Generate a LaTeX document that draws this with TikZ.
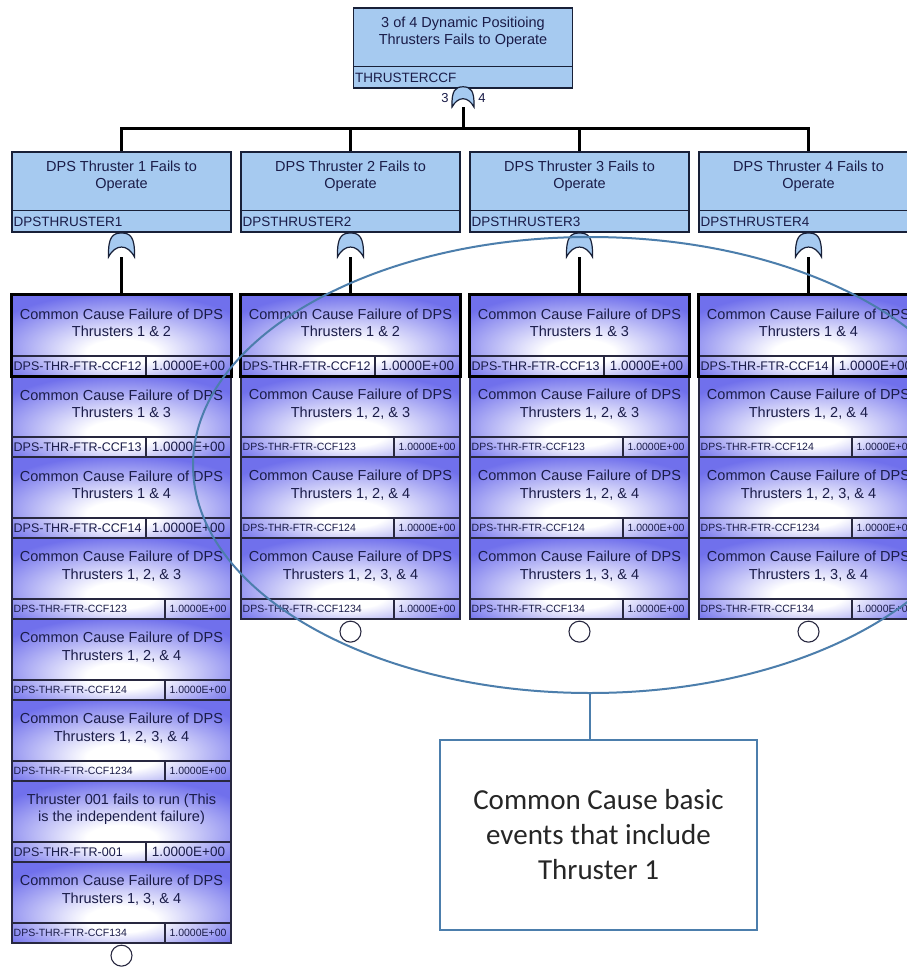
\documentclass[tikz,border=0pt]{standalone}
\usepackage{fontspec}
\setmainfont{Liberation Sans}
\newfontfamily\notefont{Carlito}
\usetikzlibrary{shapes.geometric,calc}

\definecolor{gatefill}{RGB}{166,202,240}
\definecolor{boxline}{RGB}{24,32,56}
\definecolor{evblue}{RGB}{112,112,236}
\definecolor{inktext}{RGB}{26,28,72}
\definecolor{notecol}{RGB}{76,126,172}
\definecolor{bandcol}{RGB}{40,40,64}
\definecolor{notetext}{RGB}{38,38,38}

% basic event fill: white glow near the lower middle, blue towards the edges
\pgfdeclareradialshading{evshade}{\pgfpoint{0bp}{-12bp}}{%
  color(0bp)=(white); color(8bp)=(white); color(32bp)=(evblue); color(60bp)=(evblue)}

\tikzset{
  conn/.style={line width=3pt, line join=miter},
  gatebox/.style={draw=boxline, line width=1.3pt, fill=gatefill,
    minimum width=219pt, minimum height=80pt, inner sep=0pt},
  sepline/.style={draw=boxline, line width=1.3pt},
  titletext/.style={font=\fontsize{14.5}{17.5}\selectfont, text=inktext,
    align=center, inner sep=0pt},
  gateid/.style={font=\fontsize{13.5}{15}\selectfont, text=inktext,
    inner sep=0pt, anchor=west},
  evbox/.style={draw=bandcol, line width=1.2pt, minimum width=219pt,
    minimum height=81pt, inner sep=0pt, shade, shading=evshade},
  firstedge/.style={draw=black, line width=2.6pt},
  bandline/.style={draw=bandcol, line width=1.2pt},
  idbig/.style={font=\fontsize{12.5}{14}\selectfont, text=inktext, inner sep=0pt},
  valbig/.style={font=\fontsize{13.5}{15}\selectfont, text=inktext, inner sep=0pt},
  idsmall/.style={font=\fontsize{10.5}{12}\selectfont, text=inktext, inner sep=0pt},
  valsmall/.style={font=\fontsize{10.5}{12}\selectfont, text=inktext, inner sep=0pt},
  gateslot/.style={inner sep=0pt, minimum width=26pt, minimum height=24pt},
  gateshape/.style={draw=boxline, line width=1.2pt, fill=gatefill},
  votelabel/.style={font=\fontsize{13}{14}\selectfont, text=inktext, inner sep=0pt},
  endcircle/.style={circle, draw=bandcol, fill=white, minimum size=21pt,
    inner sep=0pt, line width=1.1pt},
  group/.style={ellipse, draw=notecol, line width=2pt, minimum width=794pt,
    minimum height=456pt, inner sep=0pt},
  notebox/.style={draw=notecol, line width=2pt, fill=white, minimum width=317pt,
    minimum height=190pt, align=center, inner sep=0pt, text=notetext,
    font=\notefont\fontsize{29}{35}\selectfont},
  noteline/.style={draw=notecol, line width=2.5pt}
}

% gate event box: #1 name, #2 centre x, #3 centre y, #4 title, #5 identifier
\newcommand\gateevent[5]{%
  \node[gatebox] (#1) at (#2,#3) {};
  \draw[sepline] ($(#1.south west)+(0,-22)$) -- ($(#1.south east)+(0,-22)$);
  \node[titletext] (#1-title) at ($(#1.north)+(0,25)$) {#4};
  \node[gateid] (#1-id) at ($(#1.south west)+(2,-11)$) {#5};
}

% OR gate symbol: #1 name, #2 centre x, #3 centre y, #4 scale
\newcommand\orgate[4]{%
  \node[gateslot, minimum width={26pt*#4}, minimum height={24pt*#4}] (#1) at (#2,#3) {};
  \draw[gateshape, shift={(#1)}, scale=#4]
    (-13,12) .. controls (-13.5,-8) and (-9,-12) .. (0,-12)
    .. controls (9,-12) and (13.5,-8) .. (13,12)
    .. controls (6,-1.3) and (-6,-1.3) .. cycle;
}

% basic event: #1 name, #2 left x, #3 top y, #4 title, #5 identifier,
% #6 text size (big/small), #7 position of the divider in the id band
\newcommand\bevent[7]{%
  \node[evbox] (#1) at ({#2+109.5},{#3+40.5}) {};
  \node[titletext] (#1-title) at ({#2+109.5},{#3+28}) {#4};
  \draw[bandline] ({#2},{#3+61}) -- ({#2+219},{#3+61});
  \draw[bandline] ({#2+#7},{#3+61}) -- ({#2+#7},{#3+81});
  \node[id#6, anchor=west] (#1-id) at ({#2+1.5},{#3+71}) {#5};
  \node[val#6] (#1-val) at ({#2+(219+#7)/2},{#3+71}) {1.0000E+00};
}

\newcommand\ccf{Common Cause Failure of DPS\\}

\begin{document}
\begin{tikzpicture}[x=1pt, y=-1pt]
  \path[use as bounding box, fill=white] (0,0) rectangle (907,969);
  \clip (0,0) rectangle (907,969);

  % top event with its 3-of-4 voting gate
  \gateevent{top}{463}{48}{3 of 4 Dynamic Positioing\\Thrusters Fails to Operate}{THRUSTERCCF}
  \orgate{gtop}{463}{97}{0.85}
  \node[votelabel] (vk) at (445,98) {3};
  \node[votelabel] (vn) at (482,98) {4};
  \coordinate (jn) at (463,128);
  \draw[conn] (gtop.south) -- (jn);

  % one gate event per thruster
  \gateevent{t1}{121.5}{192}{DPS Thruster 1 Fails to\\Operate}{DPSTHRUSTER1}
  \gateevent{t2}{350.5}{192}{DPS Thruster 2 Fails to\\Operate}{DPSTHRUSTER2}
  \gateevent{t3}{579.5}{192}{DPS Thruster 3 Fails to\\Operate}{DPSTHRUSTER3}
  \gateevent{t4}{808.5}{192}{DPS Thruster 4 Fails to\\Operate}{DPSTHRUSTER4}
  \foreach \t in {t1,t2,t3,t4} \draw[conn] (jn) -| (\t.north);

  \orgate{g1}{121.5}{245}{1}
  \orgate{g2}{350.5}{245}{1}
  \orgate{g3}{579.5}{245}{1}
  \orgate{g4}{808.5}{245}{1}

  % thruster 1 inputs
  \bevent{a1}{12}{295}{\ccf Thrusters 1 \& 2}{DPS-THR-FTR-CCF12}{big}{134}
  \bevent{a2}{12}{376}{\ccf Thrusters 1 \& 3}{DPS-THR-FTR-CCF13}{big}{134}
  \bevent{a3}{12}{457}{\ccf Thrusters 1 \& 4}{DPS-THR-FTR-CCF14}{big}{134}
  \bevent{a4}{12}{538}{\ccf Thrusters 1, 2, \& 3}{DPS-THR-FTR-CCF123}{small}{153}
  \bevent{a5}{12}{619}{\ccf Thrusters 1, 2, \& 4}{DPS-THR-FTR-CCF124}{small}{153}
  \bevent{a6}{12}{700}{\ccf Thrusters 1, 2, 3, \& 4}{DPS-THR-FTR-CCF1234}{small}{153}
  \bevent{a7}{12}{781}{Thruster 001 fails to run (This\\is the independent failure)}{DPS-THR-FTR-001}{big}{134}
  \bevent{a8}{12}{862}{\ccf Thrusters 1, 3, \& 4}{DPS-THR-FTR-CCF134}{small}{153}
  \draw[firstedge] (a1.north west) rectangle (a1.south east);

  % thruster 2 inputs
  \bevent{b1}{241}{295}{\ccf Thrusters 1 \& 2}{DPS-THR-FTR-CCF12}{big}{134}
  \bevent{b2}{241}{376}{\ccf Thrusters 1, 2, \& 3}{DPS-THR-FTR-CCF123}{small}{153}
  \bevent{b3}{241}{457}{\ccf Thrusters 1, 2, \& 4}{DPS-THR-FTR-CCF124}{small}{153}
  \bevent{b4}{241}{538}{\ccf Thrusters 1, 2, 3, \& 4}{DPS-THR-FTR-CCF1234}{small}{153}
  \draw[firstedge] (b1.north west) rectangle (b1.south east);

  % thruster 3 inputs
  \bevent{c1}{470}{295}{\ccf Thrusters 1 \& 3}{DPS-THR-FTR-CCF13}{big}{134}
  \bevent{c2}{470}{376}{\ccf Thrusters 1, 2, \& 3}{DPS-THR-FTR-CCF123}{small}{153}
  \bevent{c3}{470}{457}{\ccf Thrusters 1, 2, \& 4}{DPS-THR-FTR-CCF124}{small}{153}
  \bevent{c4}{470}{538}{\ccf Thrusters 1, 3, \& 4}{DPS-THR-FTR-CCF134}{small}{153}
  \draw[firstedge] (c1.north west) rectangle (c1.south east);

  % thruster 4 inputs
  \bevent{d1}{699}{295}{\ccf Thrusters 1 \& 4}{DPS-THR-FTR-CCF14}{big}{134}
  \bevent{d2}{699}{376}{\ccf Thrusters 1, 2, \& 4}{DPS-THR-FTR-CCF124}{small}{153}
  \bevent{d3}{699}{457}{\ccf Thrusters 1, 2, 3, \& 4}{DPS-THR-FTR-CCF1234}{small}{153}
  \bevent{d4}{699}{538}{\ccf Thrusters 1, 3, \& 4}{DPS-THR-FTR-CCF134}{small}{153}
  \draw[firstedge] (d1.north west) rectangle (d1.south east);

  % gates to their first inputs
  \draw[conn] (g1.south) -- (a1.north);
  \draw[conn] (g2.south) -- (b1.north);
  \draw[conn] (g3.south) -- (c1.north);
  \draw[conn] (g4.south) -- (d1.north);

  % end markers under each column
  \node[endcircle, anchor=north] (ea) at ($(a8.south)+(0,1)$) {};
  \node[endcircle, anchor=north] (eb) at ($(b4.south)+(0,1)$) {};
  \node[endcircle, anchor=north] (ec) at ($(c4.south)+(0,1)$) {};
  \node[endcircle, anchor=north] (ed) at ($(d4.south)+(0,1)$) {};

  % grouping of the common cause events and its note
  \node[group] (grp) at (590,465) {};
  \node[notebox] (note) at (598.5,835) {Common Cause basic\\events that include\\Thruster 1};
  \draw[noteline] (grp.south) -- (grp.south |- note.north);
\end{tikzpicture}
\end{document}
